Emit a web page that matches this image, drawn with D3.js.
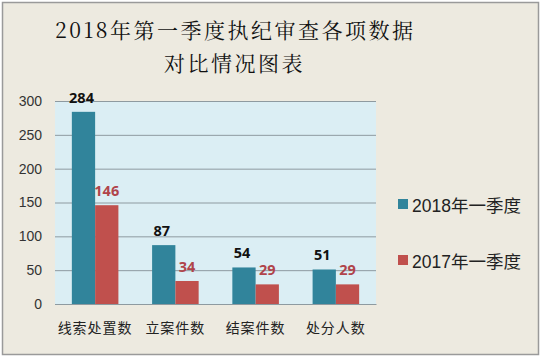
<!DOCTYPE html>
<html><head><meta charset="utf-8">
<script src="https://cdn.jsdelivr.net/npm/d3@7"></script>
<style>body{margin:0;background:#fff}svg{display:block}</style>
</head><body>
<svg id="c" width="541" height="357"></svg>
<script>
const categories = ["线索处置数","立案件数","结案件数","处分人数"];
const seriesNames = ["2018年一季度","2017年一季度"];
const values2018 = [284, 87, 54, 51];
const values2017 = [146, 34, 29, 29];
const yTicks = [0, 50, 100, 150, 200, 250, 300];
const titleLines = ["2018年第一季度执纪审查各项数据","对比情况图表"];

const colors = ["#31849b", "#c0504d"];
const labelColors = ["#111", "#b0444a"];
const svg = d3.select("#c");
svg.append("rect").attr("x",0).attr("y",0).attr("width",541).attr("height",357).attr("fill","#fff");
svg.append("rect").attr("x",2.5).attr("y",2.5).attr("width",536).attr("height",352)
  .attr("fill","#edeae0").attr("stroke","#9a9a9a").attr("stroke-width",1.5);

const L = 55, R = 376, T = 101, B = 304;
const x = d3.scaleBand().domain(categories).range([L, R]).paddingInner(0.42).paddingOuter(0.21);
const xs = d3.scaleBand().domain(seriesNames).range([0, x.bandwidth()]);
const y = d3.scaleLinear().domain([0, 300]).range([B, T]);

svg.append("rect").attr("x",L).attr("y",T).attr("width",R-L).attr("height",B-T).attr("fill","#dbeef4");

const grid = svg.append("g").attr("transform",`translate(${L},0)`)
  .call(d3.axisLeft(y).tickValues(yTicks).tickSize(-(R-L)).tickFormat(""));
grid.select(".domain").remove();
grid.selectAll("line").attr("stroke","#8e9aa0").attr("stroke-width",1);

const yAx = svg.append("g").attr("transform",`translate(${L},0)`)
  .call(d3.axisLeft(y).tickValues(yTicks).tickSize(0).tickPadding(13));
yAx.select(".domain").remove();
yAx.selectAll("text").attr("font-family","'Liberation Sans','DejaVu Sans',sans-serif")
  .attr("font-size",14).attr("fill","#333");

const series = [values2018, values2017];
series.forEach((vals, si) => {
  const g = svg.append("g");
  g.selectAll("rect").data(categories).join("rect")
    .attr("x", d => x(d) + xs(seriesNames[si]))
    .attr("y", (d,i) => y(vals[i]))
    .attr("width", xs.bandwidth())
    .attr("height", (d,i) => B - y(vals[i]))
    .attr("fill", colors[si]);
  g.selectAll("text").data(categories).join("text")
    .attr("x", d => x(d) + xs(seriesNames[si]) + xs.bandwidth()/2 + (si===1 ? 0 : -2))
    .attr("y", (d,i) => y(vals[i]) - 9)
    .attr("text-anchor","middle")
    .attr("font-family","'Open Sans','DejaVu Sans',sans-serif")
    .attr("font-weight","bold").attr("font-size",14.5)
    .attr("fill", labelColors[si])
    .text((d,i) => vals[i]);
});

const xAx = svg.append("g").attr("transform",`translate(0,${B})`)
  .call(d3.axisBottom(x).tickSize(0).tickPadding(19));
xAx.select(".domain").attr("stroke","#8e9aa0");
xAx.selectAll("text").attr("font-family","'Noto Sans CJK SC',sans-serif")
  .attr("font-size",14).attr("letter-spacing",1).attr("fill","#222");

svg.selectAll("text.title").data(titleLines).join("text").attr("class","title")
  .attr("x", (d,i) => i===0 ? 55 : 164)
  .attr("y", (d,i) => i===0 ? 38 : 71)
  .attr("font-family","'Noto Serif CJK SC','Liberation Serif','Noto Sans CJK SC',serif")
  .attr("font-size",21).attr("letter-spacing",2.5).attr("fill","#111")
  .text(d => d);

const leg = svg.append("g");
seriesNames.forEach((n, i) => {
  const yy = 212 + i*56;
  leg.append("rect").attr("x",398).attr("y",yy-13).attr("width",10).attr("height",10).attr("fill",colors[i]);
  leg.append("text").attr("x",412).attr("y",yy)
    .attr("font-family","'Liberation Sans','Noto Sans CJK SC',sans-serif")
    .attr("font-size",17.5).attr("fill","#222").text(n);
});
</script>
</body></html>
